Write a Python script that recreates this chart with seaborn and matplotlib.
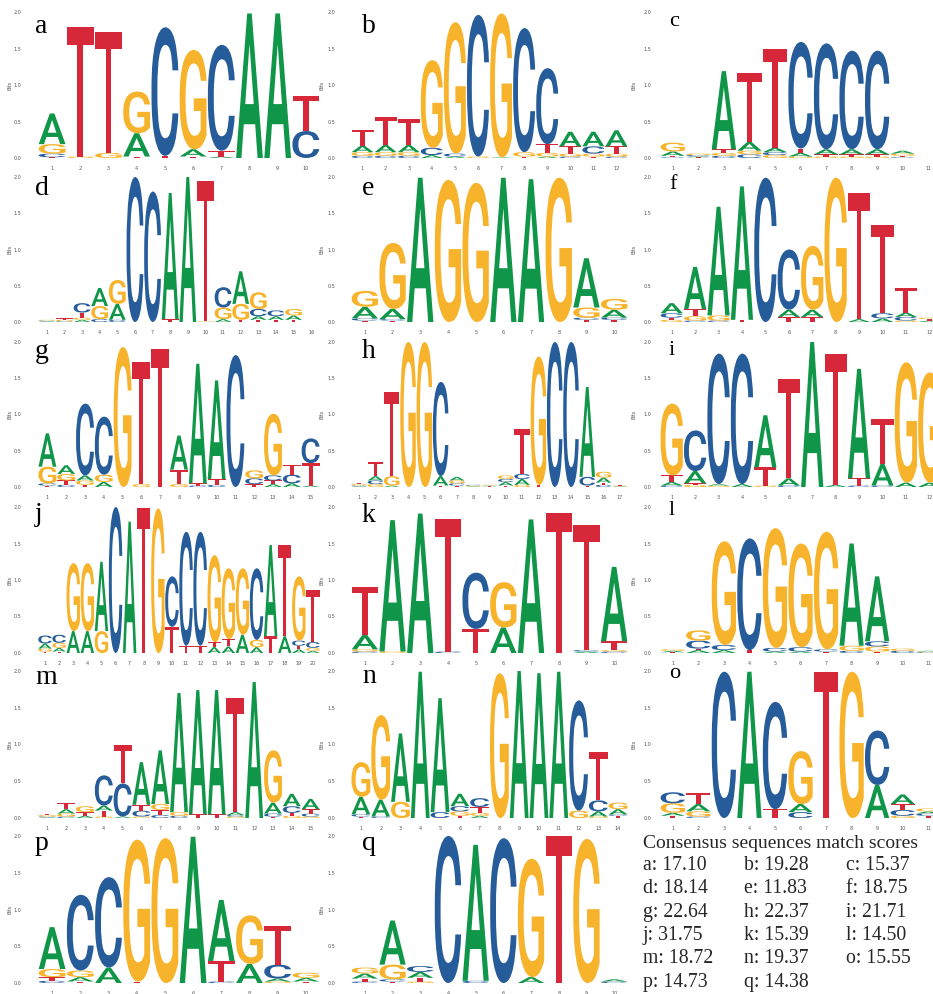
import matplotlib
matplotlib.use("Agg")
import matplotlib.pyplot as plt
import seaborn as sns
from matplotlib.textpath import TextPath
from matplotlib.patches import PathPatch
from matplotlib.font_manager import FontProperties
from matplotlib.transforms import Affine2D

# ---------------- data: information content (bits) per position, listed bottom -> top
logo_a = [
    {"T": .01, "C": .05, "G": .13, "A": .42},
    {"G": .02, "T": 1.78},
    {"G": .07, "T": 1.65},
    {"T": .02, "A": .32, "G": .57},
    {"T": .03, "C": 1.76},
    {"T": .02, "A": .10, "G": 1.36},
    {"A": .02, "T": .08, "C": 1.45},
    {"A": 1.98},
    {"A": 1.98},
    {"C": .37, "T": .48},
]
logo_b = [
    {"C": .03, "G": .05, "A": .09, "T": .21},
    {"C": .03, "G": .05, "A": .10, "T": .38},
    {"C": .03, "G": .05, "A": .10, "T": .35},
    {"A": .04, "C": .10, "G": 1.20},
    {"A": .02, "C": .04, "G": 1.80},
    {"G": .02, "C": 1.94},
    {"A": .01, "G": 1.97},
    {"T": .02, "G": .06, "C": 1.70},
    {"A": .02, "G": .05, "T": .12, "C": 1.04},
    {"C": .02, "G": .04, "T": .10, "A": .20},
    {"T": .02, "G": .04, "C": .10, "A": .20},
    {"C": .02, "G": .04, "T": .10, "A": .22},
]
logo_c = [
    {"C": .01, "T": .02, "A": .06, "G": .12},
    {"T": .01, "A": .01, "C": .02, "G": .02},
    {"C": .03, "G": .04, "T": .05, "A": 1.07},
    {"C": .05, "G": .05, "A": .12, "T": .95},
    {"G": .04, "C": .04, "A": .06, "T": 1.36},
    {"G": .02, "A": .05, "T": .06, "C": 1.46},
    {"G": .02, "T": .03, "A": .07, "C": 1.45},
    {"G": .02, "T": .03, "A": .07, "C": 1.35},
    {"G": .02, "T": .03, "A": .07, "C": 1.35},
    {"C": .01, "T": .02, "G": .03, "A": .04},
    {},
]
logo_d = [
    {"A": .01, "C": .01, "G": .01},
    {"C": .01, "G": .02, "T": .02},
    {"A": .03, "G": .03, "T": .07, "C": .13},
    {"C": .04, "G": .18, "A": .25},
    {"C": .03, "A": .22, "G": .33},
    {"C": 2.0},
    {"C": 1.80},
    {"T": .04, "A": 1.74},
    {"A": 2.0},
    {"G": .01, "T": 1.93},
    {"A": .04, "G": .16, "C": .28},
    {"T": .03, "G": .22, "A": .45},
    {"T": .03, "A": .05, "C": .10, "G": .23},
    {"T": .03, "A": .05, "C": .08},
    {"T": .03, "A": .06, "G": .09},
    {},
]
logo_e = [
    {"T": .02, "C": .03, "A": .16, "G": .22},
    {"T": .02, "C": .02, "A": .14, "G": .91},
    {"A": 1.99},
    {"G": 1.96},
    {"G": 1.92},
    {"A": 1.99},
    {"A": 1.97},
    {"G": 1.99},
    {"T": .03, "C": .03, "G": .14, "A": .68},
    {"T": .03, "C": .03, "A": .11, "G": .15},
]
logo_f = [
    {"G": .03, "T": .03, "C": .06, "A": .14},
    {"C": .02, "G": .06, "T": .10, "A": .58},
    {"C": .02, "G": .07, "A": 1.50},
    {"T": .03, "A": 1.84},
    {"C": 1.99},
    {"T": .07, "A": .10, "C": .83},
    {"T": .07, "A": .10, "G": .88},
    {"G": 1.99},
    {"A": .04, "T": 1.74},
    {"A": .05, "C": .07, "T": 1.22},
    {"G": .02, "C": .05, "A": .06, "T": .34},
    {"A": .02, "T": .02, "G": .02},
]
logo_g = [
    {"T": .02, "C": .03, "G": .23, "A": .46},
    {"C": .03, "T": .06, "G": .09, "A": .12},
    {"T": .03, "G": .06, "A": .07, "C": .99},
    {"A": .07, "G": .10, "C": .80},
    {"G": 1.93},
    {"G": .04, "T": 1.68},
    {"T": 1.91},
    {"G": .04, "T": .20, "A": .47},
    {"C": .02, "T": .03, "A": 1.65},
    {"C": .03, "T": .08, "A": 1.36},
    {"C": 1.82},
    {"T": .04, "C": .08, "G": .11},
    {"A": .04, "T": .05, "C": .07, "G": .85},
    {"A": .05, "C": .12, "T": .14},
    {"A": .02, "T": .31, "C": .34},
]
logo_h = [
    {"A": .01, "C": .01, "G": .02, "T": .01},
    {"G": .04, "C": .05, "A": .06, "T": .20},
    {"A": .02, "G": .13, "T": 1.16},
    {"G": 2.0},
    {"G": 2.0},
    {"T": .02, "A": .13, "C": 1.30},
    {"T": .02, "C": .03, "G": .04, "A": .05},
    {"A": .01, "G": .01, "C": .01},
    {"T": .01, "A": .01, "G": .01},
    {"T": .02, "A": .05, "C": .04, "G": .05},
    {"G": .03, "A": .08, "C": .07, "T": .62},
    {"T": .03, "G": 1.77},
    {"C": 2.0},
    {"C": 2.0},
    {"T": .02, "C": .12, "A": 1.24},
    {"C": .03, "T": .03, "A": .07, "G": .08},
    {"A": .01, "G": .01, "T": .01},
]
logo_i = [
    {"C": .02, "A": .05, "T": .09, "G": .99},
    {"G": .03, "T": .02, "A": .17, "C": .56},
    {"G": .02, "A": .02, "C": 1.80},
    {"A": .04, "C": 1.80},
    {"G": .02, "T": .25, "A": .72},
    {"C": .02, "A": .10, "T": 1.37},
    {"A": 2.0},
    {"A": .03, "T": 1.81},
    {"C": .02, "T": .10, "A": 1.51},
    {"C": .02, "A": .30, "T": .62},
    {"A": .06, "G": 1.66},
    {"A": .06, "G": 1.52},
]
logo_j = [
    {"T": .02, "G": .04, "A": .07, "C": .11},
    {"T": .02, "A": .05, "G": .07, "C": .11},
    {"A": .30, "G": .93},
    {"A": .30, "G": .93},
    {"G": .30, "A": .95},
    {"C": 2.0},
    {"A": 1.80},
    {"T": 1.98},
    {"G": 1.98},
    {"T": .36, "C": .69},
    {"T": .10, "C": 1.56},
    {"T": .10, "C": 1.56},
    {"A": .08, "T": .07, "G": 1.19},
    {"A": .09, "T": .10, "G": .97},
    {"A": .25, "G": .91},
    {"A": .08, "G": .10, "C": .98},
    {"T": .23, "A": 1.25},
    {"A": .23, "T": 1.25},
    {"A": .05, "T": .05, "C": .07, "G": .88},
    {"A": .03, "G": .04, "C": .08, "T": .71},
]
logo_k = [
    {"C": .02, "G": .03, "A": .20, "T": .66},
    {"G": .02, "A": 1.80},
    {"A": 1.91},
    {"C": .02, "T": 1.82},
    {"T": .33, "C": .77},
    {"A": .35, "G": .62},
    {"A": 1.83},
    {"T": 1.92},
    {"A": .02, "C": .02, "T": 1.72},
    {"C": .02, "G": .02, "T": .12, "A": 1.02},
]
logo_l = [
    {"T": .01, "A": .02, "G": .02},
    {"A": .04, "T": .02, "C": .11, "G": .14},
    {"A": .04, "C": .07, "G": 1.42},
    {"T": .04, "C": 1.53},
    {"A": .02, "C": .05, "G": 1.64},
    {"A": .02, "C": .06, "G": 1.42},
    {"T": .02, "C": .03, "G": 1.61},
    {"C": .03, "G": .07, "A": 1.40},
    {"T": .02, "G": .07, "C": .07, "A": .89},
    {"C": .03, "G": .03},
    {"C": .01, "G": .01, "A": .01},
]
logo_m = [
    {"A": .01, "C": .01, "G": .02, "T": .01},
    {"C": .02, "G": .04, "A": .06, "T": .08},
    {"A": .03, "T": .05, "G": .08},
    {"G": .02, "T": .08, "A": .07, "C": .41},
    {"A": .02, "C": .45, "T": .52},
    {"G": .02, "C": .08, "T": .08, "A": .58},
    {"C": .04, "T": .07, "G": .08, "A": .73},
    {"C": .03, "G": .05, "A": 1.62},
    {"T": .05, "A": 1.69},
    {"T": .05, "A": 1.69},
    {"G": .02, "C": .02, "A": .04, "T": 1.55},
    {"A": 1.85},
    {"T": .02, "C": .04, "A": .15, "G": .71},
    {"G": .03, "T": .04, "C": .09, "A": .17},
    {"G": .02, "C": .04, "T": .06, "A": .14},
]
logo_n = [
    {"T": .02, "C": .03, "A": .24, "G": .47},
    {"C": .02, "A": .23, "G": 1.15},
    {"G": .22, "A": .93},
    {"A": 1.99},
    {"C": .08, "A": 1.55},
    {"T": .03, "G": .06, "C": .07, "A": .17},
    {"A": .03, "G": .04, "T": .08, "C": .12},
    {"G": 1.97},
    {"A": 2.0},
    {"A": 1.97},
    {"A": 1.99},
    {"G": .10, "C": 1.50},
    {"G": .02, "A": .07, "C": .15, "T": .66},
    {"T": .03, "C": .02, "A": .07, "G": .09},
]
logo_o = [
    {"T": .03, "A": .04, "G": .13, "C": .15},
    {"C": .02, "G": .07, "A": .10, "T": .15},
    {"C": 1.99},
    {"A": 1.99},
    {"T": .12, "C": 1.46},
    {"C": .08, "A": .11, "G": .72},
    {"T": 1.99},
    {"G": 1.99},
    {"A": .45, "C": .74},
    {"G": .03, "C": .08, "T": .08, "A": .13},
    {"T": .03, "C": .03, "A": .03, "G": .04},
]
logo_p = [
    {"C": .03, "T": .05, "G": .11, "A": .57},
    {"T": .02, "A": .06, "G": .09, "C": 1.03},
    {"A": .21, "C": 1.23},
    {"T": .02, "G": 1.93},
    {"G": 1.97},
    {"A": 1.99},
    {"C": .02, "T": .28, "A": .83},
    {"A": .26, "G": .66},
    {"G": .02, "A": .04, "C": .19, "T": .53},
    {"T": .02, "A": .05, "G": .07},
]
logo_q = [
    {"C": .02, "T": .04, "A": .07, "G": .08},
    {"T": .02, "C": .03, "G": .20, "A": .60},
    {"G": .02, "T": .05, "A": .08, "C": .08},
    {"C": 2.0},
    {"C": .03, "A": 1.85},
    {"C": 1.97},
    {"A": .08, "G": 1.61},
    {"T": 2.0},
    {"G": 1.96},
    {"C": .02, "A": .03},
]

panel_names = list("abcdefghijklmnopq")
panel_logos = [logo_a, logo_b, logo_c, logo_d, logo_e, logo_f, logo_g, logo_h, logo_i,
               logo_j, logo_k, logo_l, logo_m, logo_n, logo_o, logo_p, logo_q]

score_names = list("abcdefghijklmnopq")
score_values = ["17.10", "19.28", "15.37", "18.14", "11.83", "18.75", "22.64", "22.37",
                "21.71", "31.75", "15.39", "14.50", "18.72", "19.37", "15.55", "14.73", "14.38"]
y_ticks = [0.0, 0.5, 1.0, 1.5, 2.0]

# ---------------- style
sns.set_theme(style="white")
plt.rcParams["font.family"] = ["DejaVu Sans"]
COLORS = {"A": "#109648", "C": "#255C99", "G": "#F7B32B", "T": "#D62839"}

W_PX, H_PX = 933, 994
fig = plt.figure(figsize=(W_PX / 100, H_PX / 100), dpi=100)

col_left = [38, 351, 660]
col_width = [282, 277, 281]
row_top = [12, 177, 342, 507, 671, 836]
row_bottom = [158, 322, 487, 653, 818, 983]
ytick_pad = [12, 11.5, 6.5]
bits_x = [12, 325, 636]

label_size = [20, 20, 16]
label_x = [35, 362, 669]
label_base = [[33, 33, 26], [195, 195, 189], [358, 358, 355],
              [521, 522, 515], [684, 683, 678], [850, 850, 850]]

fp = FontProperties(family="Roboto", weight="medium")
glyphs = {}
for ch in "ACGT":
    tp = TextPath((0, 0), ch, size=1, prop=fp)
    glyphs[ch] = (tp, tp.get_extents())


def draw_letter(ax, ch, xc, y0, h, w=0.95):
    tp, ext = glyphs[ch]
    tr = (Affine2D().translate(-ext.x0, -ext.y0)
          .scale(w / ext.width, h / ext.height)
          .translate(xc - w / 2, y0))
    patch = PathPatch(tr.transform_path(tp), facecolor=COLORS[ch], edgecolor="none", lw=0)
    patch.set_clip_on(False)
    ax.add_patch(patch)


for idx, (name, logo) in enumerate(zip(panel_names, panel_logos)):
    r, c = divmod(idx, 3)
    L, Wd = col_left[c], col_width[c]
    top, bot = row_top[r], row_bottom[r]
    ax = fig.add_axes([L / W_PX, 1 - bot / H_PX, Wd / W_PX, (bot - top) / H_PX])
    n = len(logo)
    for pos, stack in enumerate(logo, start=1):
        y = 0.0
        for ch, h in stack.items():
            if h > 0:
                draw_letter(ax, ch, pos, y, h)
            y += h
    ax.set_xlim(0.5, n + 0.5)
    ax.set_ylim(0, 2.0)
    ax.set_xticks(range(1, n + 1))
    ax.set_xticklabels([str(k) for k in range(1, n + 1)])
    ax.set_yticks(y_ticks)
    ax.set_yticklabels([f"{v:.1f}" for v in y_ticks])
    ax.tick_params(axis="both", length=0, labelsize=3.5, labelcolor="#555555")
    ax.tick_params(axis="y", pad=ytick_pad[c])
    ax.tick_params(axis="x", pad=5.5)
    ax.set_ylabel("Bits", fontsize=3.5, color="#555555")
    ax.yaxis.set_label_coords((bits_x[c] - L) / Wd, 0.5)
    sns.despine(ax=ax, left=True, bottom=True)
    ax.set_facecolor("none")
    fig.text(label_x[c] / W_PX, 1 - label_base[r][c] / H_PX, name,
             fontsize=label_size[c], family="Liberation Serif",
             ha="left", va="baseline", color="black")

# ---------------- score table
serif = "Liberation Serif"
fig.text(643 / W_PX, 1 - 843 / H_PX, "Consensus sequences match scores",
         fontsize=14.0, family=serif, ha="left", va="center")
col_x = [643, 744, 846]
for k, (nm, val) in enumerate(zip(score_names, score_values)):
    rr, cc = divmod(k, 3)
    fig.text(col_x[cc] / W_PX, 1 - (865.5 + 23.3 * rr) / H_PX, f"{nm}: {val}",
             fontsize=14.2, family=serif, ha="left", va="center")

fig.savefig("out.png", dpi=100, facecolor="white")
